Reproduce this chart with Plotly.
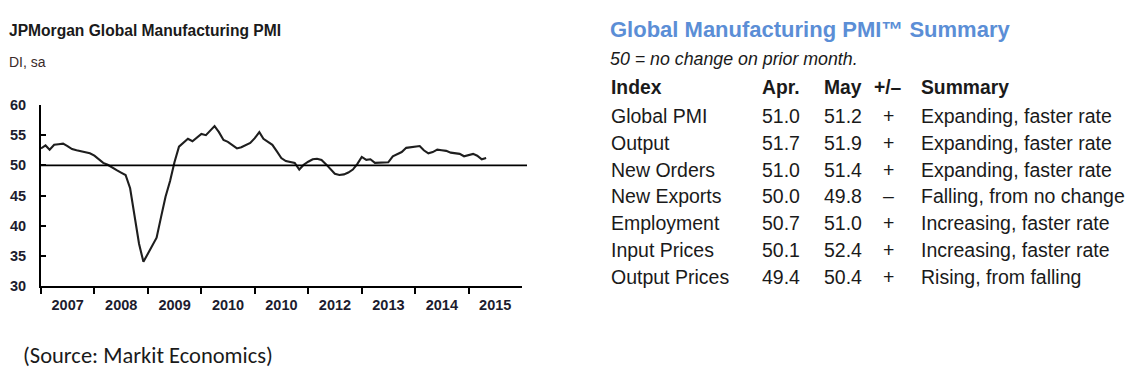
import plotly.graph_objects as go
import pandas as pd

# ---------------- data ----------------
start_month = "2007-01-01"
pmi = [
    # 2007
    52.8, 53.3, 52.6, 53.4, 53.5, 53.6, 53.2, 52.7, 52.5, 52.3, 52.2, 52.0,
    # 2008
    51.6, 50.9, 50.4, 50.1, 49.6, 49.2, 48.8, 48.4, 46.2, 41.8, 37.0, 34.0,
    # 2009
    35.3, 36.6, 38.0, 41.5, 44.8, 47.4, 50.5, 53.1, 53.8, 54.4, 54.0, 54.6,
    # 2010
    55.2, 55.0, 55.7, 56.5, 55.5, 54.2, 53.9, 53.3, 52.8, 53.0, 53.4, 53.7,
    # 2011
    54.5, 55.5, 54.4, 53.9, 53.4, 52.3, 51.2, 50.7, 50.5, 50.4, 49.3, 50.1,
    # 2012
    50.6, 51.0, 51.1, 50.9, 50.2, 49.3, 48.6, 48.4, 48.5, 48.8, 49.3, 50.2,
    # 2013
    51.4, 50.9, 51.0, 50.4, 50.4, 50.4, 50.5, 51.5, 51.9, 52.2, 52.9, 53.0,
    # 2014
    53.0, 53.2, 52.5, 52.0, 52.2, 52.6, 52.5, 52.4, 52.1, 52.0, 51.9, 51.5,
    # 2015
    51.7, 51.9, 51.6, 51.0, 51.2,
]
dates = pd.date_range(start_month, periods=len(pmi), freq="MS")

year_starts = [f"{y}-01-01" for y in range(2007, 2016)]
label_pos = [f"{y}-07-02" for y in range(2007, 2016)]
year_labels = ["2007", "2008", "2009", "2010", "2010", "2012", "2013", "2014", "2015"]
y_ticks = [30, 35, 40, 45, 50, 55, 60]
reference_level = 50

chart_title = "JPMorgan Global Manufacturing PMI"
chart_unit = "DI, sa"
source_text = "(Source: Markit Economics)"

table_title = "Global Manufacturing PMI\u2122 Summary"
table_note = "50 = no change on prior month."
headers = ["Index", "Apr.", "May", "+/\u2013", "Summary"]
indices = ["Global PMI", "Output", "New Orders", "New Exports", "Employment",
           "Input Prices", "Output Prices"]
apr_vals = ["51.0", "51.7", "51.0", "50.0", "50.7", "50.1", "49.4"]
may_vals = ["51.2", "51.9", "51.4", "49.8", "51.0", "52.4", "50.4"]
signs = ["+", "+", "+", "\u2013", "+", "+", "+"]
summaries = ["Expanding, faster rate", "Expanding, faster rate", "Expanding, faster rate",
             "Falling, from no change", "Increasing, faster rate",
             "Increasing, faster rate", "Rising, from falling"]

# ---------------- layout constants ----------------
# the page body has an 8px margin, so the figure is drawn 8px in from the corner
OFF = 8
W, H = 1141 - 2 * OFF, 377 - 2 * OFF
L, R, T, B = 41 - OFF, 522 - OFF, 105 - OFF, 286 - OFF

def px(x):
    return (x - OFF - L) / (R - L)

def py(y):
    return (B - (y - OFF)) / (B - T)

arial = "Liberation Sans, Arial, sans-serif"
dark = "#1a1a1a"

fig = go.Figure()
fig.add_trace(go.Scatter(
    x=dates, y=pmi, mode="lines",
    line=dict(color="#1e1e1e", width=2.1),
    hoverinfo="skip", showlegend=False,
))

fig.update_layout(
    width=W, height=H,
    paper_bgcolor="white", plot_bgcolor="white",
    margin=dict(l=L, r=W - R, t=T, b=H - B, autoexpand=False),
    showlegend=False,
    xaxis=dict(
        type="date",
        range=[year_starts[0], "2016-01-01"],
        tickmode="array", tickvals=label_pos, ticktext=year_labels,
        ticks="", showgrid=False, zeroline=False,
        showline=True, linecolor="black", linewidth=2,
        tickfont=dict(family=arial, size=14.5, color="#1c1c2e", weight="bold"),
        ticklabelstandoff=5,
        minor=dict(tickmode="array", tickvals=year_starts, ticks="outside",
                   ticklen=6, tickwidth=2, tickcolor="black", showgrid=False),
    ),
    xaxis2=dict(
        type="date", overlaying="x", anchor="y", side="bottom",
        range=[year_starts[0], "2016-01-01"],
        tickmode="array", tickvals=year_starts, ticks="inside",
        ticklen=6, tickwidth=2, tickcolor="black",
        showticklabels=False, showgrid=False, zeroline=False, showline=False,
    ),
    yaxis=dict(
        range=[30, 60], tickmode="array", tickvals=y_ticks,
        ticks="inside", ticklen=5, tickwidth=1.5, tickcolor="black",
        showgrid=False, zeroline=False,
        showline=True, linecolor="black", linewidth=2,
        tickfont=dict(family=arial, size=14.5, color="#1c1c2e", weight="bold"),
        ticklabelstandoff=10,
    ),
)

# reference line at 50 (extends slightly beyond the axis end)
fig.add_shape(type="line", xref="paper", yref="y",
              x0=0, x1=px(527), y0=reference_level, y1=reference_level,
              line=dict(color="black", width=1.6))

def note(text, x, y, size, color=dark, anchor="left", family=arial):
    return dict(text=text, x=px(x), y=py(y), xref="paper", yref="paper",
                xanchor=anchor, yanchor="middle", showarrow=False,
                font=dict(family=family, size=size, color=color))

ann = [
    note(f"<b>{chart_title}</b>", 7, 31, 15.6),
    note(chart_unit, 7, 62, 14, color="#3a2a2a"),
    note(source_text, 21, 355, 22.5, family="Calibri, Carlito, Lato, sans-serif"),
    note(f"<b>{table_title}</b>", 608, 29, 22, color="#5B8ED6"),
    note(f"<i>{table_note}</i>", 608, 59, 17.8),
]

col_x = [609, 760, 822, 888, 919]
col_anchor = ["left", "left", "left", "center", "left"]
header_y = 87
row_y0, row_dy = 116, 26.8

for h, cx, ca in zip(headers, col_x, col_anchor):
    ann.append(note(f"<b>{h}</b>", cx, header_y, 19.3, anchor=ca))

for i, row in enumerate(zip(indices, apr_vals, may_vals, signs, summaries)):
    yy = row_y0 + i * row_dy
    for val, cx, ca in zip(row, col_x, col_anchor):
        ann.append(note(val, cx, yy, 19.5, anchor=ca))

fig.update_layout(annotations=ann)
fig.write_html("out.html")
